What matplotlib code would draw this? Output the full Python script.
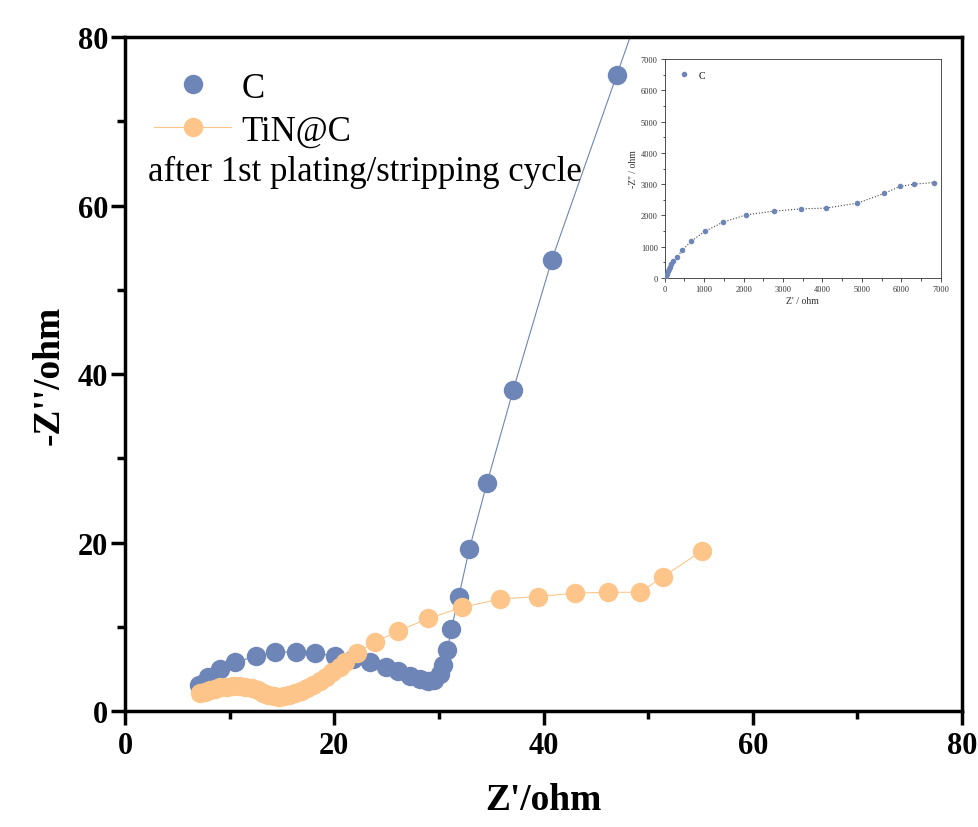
import numpy as np
import matplotlib
matplotlib.use("Agg")
import matplotlib.pyplot as plt
from matplotlib.ticker import MultipleLocator

plt.rcParams['font.family'] = ['Liberation Serif', 'DejaVu Serif']
plt.rcParams['mathtext.fontset'] = 'stix'

# C electrode (main view, ohm)
c_x = [7.05, 7.9, 9.05, 10.5, 12.5, 14.3, 16.3, 18.2, 20.1, 21.8, 23.4, 24.9, 26.1,
       27.2, 28.2, 29.0, 29.5, 30.1, 30.4, 30.8, 31.2, 31.9, 32.9, 34.6, 37.1, 40.8,
       47.0, 54.5]
c_y = [3.1, 4.0, 5.0, 5.8, 6.5, 7.0, 7.0, 6.9, 6.5, 6.2, 5.8, 5.2, 4.75,
       4.15, 3.8, 3.55, 3.7, 4.4, 5.5, 7.2, 9.8, 13.6, 19.2, 27.1, 38.1, 53.6,
       75.5, 102.0]

# TiN@C electrode
tin_x = [7.2, 7.6, 8.1, 8.6, 9.1, 9.7, 10.3, 10.9, 11.5, 12.1, 12.7, 13.2, 13.7,
         14.2, 14.7, 15.2, 15.7, 16.2, 16.8, 17.4, 18.0, 18.6, 19.2, 19.8, 20.5,
         21.0, 22.2, 23.9, 26.1, 29.0, 32.2, 35.8, 39.5, 43.0, 46.2, 49.2, 51.4, 55.1]
tin_y = [2.1, 2.3, 2.5, 2.65, 2.8, 2.9, 2.95, 2.95, 2.85, 2.7, 2.45, 2.2, 1.95,
         1.8, 1.7, 1.75, 1.9, 2.1, 2.4, 2.75, 3.15, 3.6, 4.1, 4.6, 5.2,
         5.8, 6.9, 8.2, 9.5, 11.0, 12.3, 13.3, 13.6, 14.0, 14.1, 14.1, 15.9, 19.0]

# C electrode, full range (inset)
inset_x = [25, 51, 76, 101, 127, 169, 211, 313, 448, 676, 1014, 1479, 2071, 2764,
           3466, 4083, 4886, 5562, 5960, 6315, 6830]
inset_y = [64, 138, 213, 277, 351, 436, 532, 670, 894, 1181, 1489, 1787, 2021, 2138,
           2213, 2234, 2394, 2702, 2926, 3000, 3053]

blue = '#6e85b7'
orange = '#fec58a'

fig = plt.figure(figsize=(9.79, 8.28), dpi=100)
ax = fig.add_axes([0.1277, 0.140, 0.855, 0.814])

ax.plot(c_x, c_y, '-', color=blue, lw=0.8, zorder=2)
ax.plot(c_x, c_y, 'o', color=blue, ms=14, mec='none', label='C', zorder=3)
ax.plot(tin_x, tin_y, '-o', color=orange, lw=0.8, ms=14, mec='none',
        label='TiN@C', zorder=3)

ax.set_xlim(0, 80)
ax.set_ylim(0, 80)
ax.xaxis.set_major_locator(MultipleLocator(20))
ax.xaxis.set_minor_locator(MultipleLocator(10))
ax.yaxis.set_major_locator(MultipleLocator(20))
ax.yaxis.set_minor_locator(MultipleLocator(10))
ax.tick_params(which='major', direction='out', length=10, width=2.5,
               labelsize=22, pad=4)
ax.tick_params(axis='y', which='major', pad=2)
ax.tick_params(which='minor', direction='out', length=6, width=2.5)
for lab in ax.get_xticklabels() + ax.get_yticklabels():
    lab.set_fontweight('bold')
for sp in ax.spines.values():
    sp.set_linewidth(2.5)

ax.set_xlabel("Z'/ohm", fontsize=27, fontweight='bold', labelpad=16)
ax.set_ylabel("-Z''/ohm", fontsize=27, fontweight='bold', labelpad=8)

leg = ax.legend(loc='upper left', bbox_to_anchor=(0.006, 0.985), frameon=False,
                fontsize=25, handlelength=2.2, handletextpad=0.3,
                labelspacing=0.28, borderaxespad=0.3)
ax.text(0.028, 0.788, 'after 1st plating/stripping cycle', transform=ax.transAxes,
        fontsize=25, va='baseline', ha='left')

# inset with full-range C data
axin = fig.add_axes([0.679, 0.663, 0.282, 0.2645])
axin.plot(inset_x, inset_y, ':', color='#444444', lw=0.8, zorder=2)
axin.plot(inset_x, inset_y, 'o', color=blue, ms=4, mec='none', label='C', zorder=3)
axin.set_xlim(0, 7000)
axin.set_ylim(0, 7000)
axin.xaxis.set_major_locator(MultipleLocator(1000))
axin.xaxis.set_minor_locator(MultipleLocator(500))
axin.yaxis.set_major_locator(MultipleLocator(1000))
axin.yaxis.set_minor_locator(MultipleLocator(500))
axin.tick_params(which='major', direction='out', length=3, width=0.6,
                 labelsize=6, pad=2, colors='#333333')
axin.tick_params(which='minor', direction='out', length=1.8, width=0.6,
                 colors='#333333')
for sp in axin.spines.values():
    sp.set_linewidth(0.6)
    sp.set_color('#333333')
axin.set_xlabel("Z' / ohm", fontsize=7, color='#333333', labelpad=2)
axin.set_ylabel("-Z'' / ohm", fontsize=7, color='#333333', labelpad=2)
axin.legend(loc='upper left', frameon=False, fontsize=7, handlelength=1.5,
            borderaxespad=0.8)

fig.savefig('out.png', dpi=100)
